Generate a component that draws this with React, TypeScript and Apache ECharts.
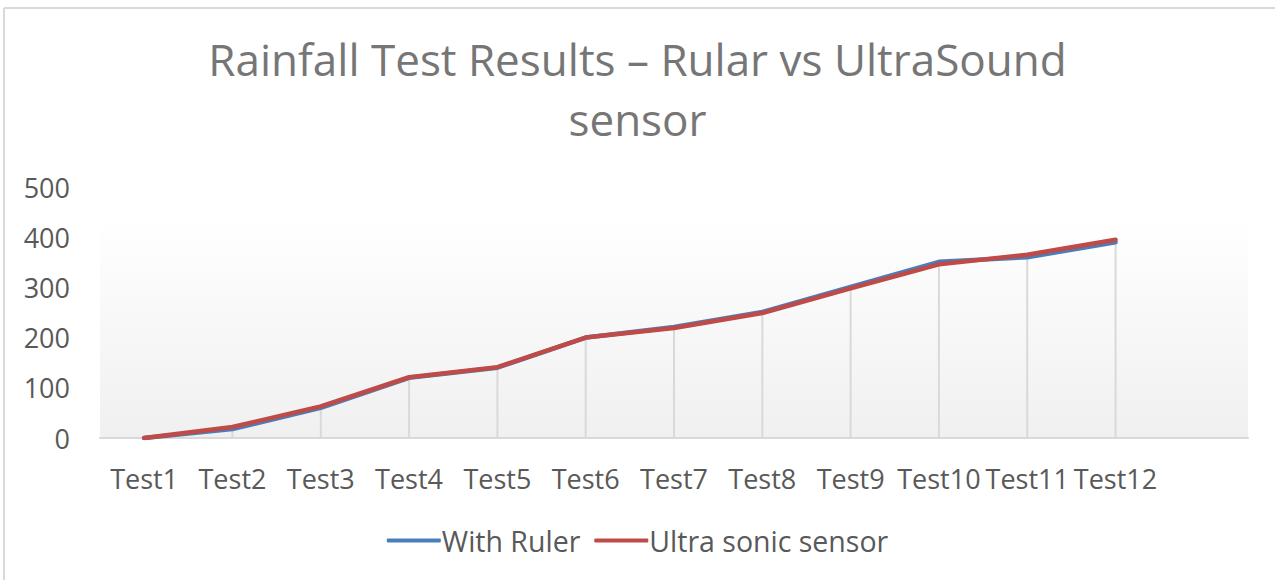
import React, { useEffect, useRef } from "react";
import * as echarts from "echarts";

const categories = ["Test1", "Test2", "Test3", "Test4", "Test5", "Test6", "Test7", "Test8", "Test9", "Test10", "Test11", "Test12", ""];
const withRuler = [0, 18, 60, 120, 140, 200, 221, 251, 301, 351, 360, 390];
const ultraSonic = [0, 22, 63, 121, 141, 200, 219, 249, 298, 346, 365, 395];
const yTicks = { min: 0, max: 500, interval: 100 };

export default function App() {
  const ref = useRef<HTMLDivElement>(null);
  useEffect(() => {
    const chart = echarts.init(ref.current!, null, { renderer: "svg" });
    const drop = withRuler.map((v, i) => Math.max(v, ultraSonic[i]));
    const font = "Open Sans";
    chart.setOption({
      animation: false,
      backgroundColor: "#ffffff",
      title: {
        text: "Rainfall Test Results – Rular vs UltraSound\nsensor",
        left: "center",
        top: 24,
        textStyle: { fontFamily: font, fontSize: 44, fontWeight: "normal", color: "#767676", lineHeight: 60 },
      },
      legend: {
        bottom: 20,
        left: "center",
        itemWidth: 54,
        itemHeight: 4,
        itemGap: 14,
        icon: "roundRect",
        data: ["With Ruler", "Ultra sonic sensor"],
        textStyle: { fontFamily: font, fontSize: 28.5, color: "#595959", padding: [0, 0, 0, -4] },
      },
      graphic: [
        { type: "line", shape: { x1: 4, y1: 8, x2: 1275, y2: 8 }, style: { stroke: "#d9d9d9", lineWidth: 2 } },
        { type: "line", shape: { x1: 4, y1: 8, x2: 4, y2: 580 }, style: { stroke: "#d9d9d9", lineWidth: 2 } },
        {
          type: "rect",
          z: -10,
          shape: { x: 100, y: 218, width: 1148, height: 220 },
          style: {
            fill: new echarts.graphic.LinearGradient(0, 0, 0, 1, [
              { offset: 0, color: "#ffffff" },
              { offset: 1, color: "#f0f0f0" },
            ]),
          },
        },
      ],
      grid: { left: 100, right: 27, top: 187, bottom: 142 },
      xAxis: {
        type: "category",
        data: categories,
        boundaryGap: true,
        axisLine: { lineStyle: { color: "#d9d9d9", width: 2 } },
        axisTick: { show: false },
        axisLabel: { interval: 0, margin: 27, fontFamily: font, fontSize: 27, color: "#595959" },
        splitLine: { show: false },
      },
      yAxis: {
        type: "value",
        ...yTicks,
        axisLine: { show: false },
        axisTick: { show: false },
        splitLine: { show: false },
        axisLabel: { margin: 30, fontFamily: font, fontSize: 27, color: "#595959" },
      },
      series: [
        {
          name: "drop",
          type: "bar",
          data: drop,
          barWidth: 2,
          silent: true,
          itemStyle: { color: "#d9d9d9" },
          z: 1,
        },
        {
          name: "With Ruler",
          type: "line",
          data: withRuler,
          symbol: "none",
          lineStyle: { color: "#4a7ebb", width: 4.5, cap: "round", join: "round" },
          itemStyle: { color: "#4a7ebb" },
          z: 2,
        },
        {
          name: "Ultra sonic sensor",
          type: "line",
          data: ultraSonic,
          symbol: "none",
          lineStyle: { color: "#be4b48", width: 4.5, cap: "round", join: "round" },
          itemStyle: { color: "#be4b48" },
          z: 3,
        },
      ],
    });
    return () => chart.dispose();
  }, []);
  return <div ref={ref} style={{ position: "fixed", left: 0, top: 0, width: 1275, height: 580 }} />;
}
